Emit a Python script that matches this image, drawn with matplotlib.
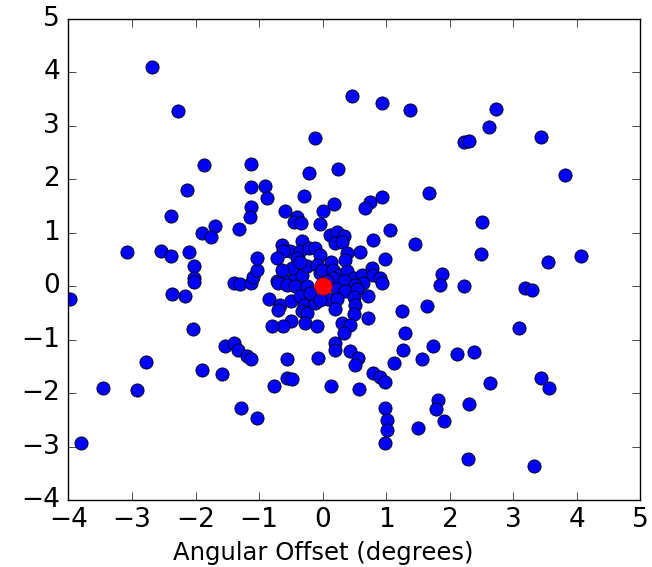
import matplotlib
matplotlib.use("Agg")
import matplotlib.pyplot as plt

# star offsets (degrees)
x_off = [
    -2.69, -2.27, 0.46, 0.93, 1.38, 2.73, 2.62, 2.23, 2.30, 3.43, 3.81,
    -0.12, -1.87, -1.13, -0.21, 0.24, -2.13, -1.13, -0.90, -0.88, -0.29,
    -1.13, -1.15, -2.39, -0.59, 0.01, 0.18, -0.41, -0.45, -0.34, -0.04,
    -1.70, -1.90, -1.76, -1.31, 1.68, 0.93, 0.75, 0.67, 2.51, 1.06,
    0.79, 1.45, 0.12, 0.22, 0.34, 0.20, 0.30, 0.59, 0.38, 0.35,
    0.14, 0.98, 2.49, 3.55, 4.06, -3.08, -2.55, -2.39, -2.10, -2.02,
    -2.02, -2.02, -3.98, -2.37, -2.17, -2.04, -1.40, -1.30, -1.12, -1.09,
    -1.03, -1.04, -0.64, -0.33, -0.51, -0.35, -0.62, -0.72, -0.41, -0.22,
    -0.12, -0.04, -0.72, -0.56, -0.43, -0.33, -0.25, -0.09, -0.04, -0.48,
    -0.64, -0.35, -0.70, -0.56, -0.43, -0.25, -0.01, 0.17, 0.28, 0.38,
    0.49, 0.62, 0.77, 0.80, 0.91, 0.93, 0.17, 0.07, 0.33, 0.64,
    0.51, 1.88, 1.85, 2.22, 3.19, 3.30, 0.22, 0.35, 0.54, 0.72,
    0.09, 0.22, 0.49, 0.51, 0.20, 0.49, 0.72, 0.30, 0.43, 0.33,
    0.20, 0.20, 0.43, 0.56, 0.51, 0.80, 0.91, 0.99, 1.25, 1.30,
    1.27, 1.12, 1.56, 1.64, 1.74, 2.12, 2.38, 3.09, 0.14, 0.57,
    0.98, 1.02, 1.02, 0.98, 1.50, 1.81, 1.79, 1.91, 2.31, 2.63,
    3.44, 3.57, 2.29, 3.33, -0.85, -0.67, -0.70, -0.49, -0.35, -0.30,
    -0.33, -0.25, -0.12, -0.28, -0.09, -0.49, -0.62, -0.80, -0.20, -0.04,
    -0.56, -0.07, -1.54, -1.40, -1.33, -1.19, -1.12, -0.56, -0.48, -0.77,
    -1.90, -1.58, -2.78, -3.45, -2.92, -3.80, -1.29, -1.04,
]
y_off = [
    4.10, 3.28, 3.56, 3.42, 3.30, 3.32, 2.98, 2.70, 2.72, 2.79, 2.07,
    2.77, 2.26, 2.28, 2.12, 2.19, 1.80, 1.85, 1.88, 1.65, 1.68,
    1.48, 1.29, 1.31, 1.41, 1.41, 1.54, 1.30, 1.20, 1.18, 1.17,
    1.12, 0.99, 0.92, 1.07, 1.75, 1.66, 1.57, 1.46, 1.19, 1.05,
    0.86, 0.78, 0.96, 1.02, 0.93, 0.81, 0.82, 0.64, 0.62, 0.48,
    0.46, 0.50, 0.61, 0.46, 0.57, 0.64, 0.66, 0.56, 0.63, 0.37,
    0.15, 0.07, -0.24, -0.15, -0.19, -0.81, 0.06, 0.04, 0.06, 0.17,
    0.31, 0.53, 0.76, 0.84, 0.65, 0.65, 0.65, 0.53, 0.53, 0.71,
    0.71, 0.59, 0.09, 0.09, 0.15, 0.21, 0.37, 0.40, 0.25, 0.34,
    0.31, 0.46, 0.05, 0.03, 0.00, 0.00, 0.31, 0.31, 0.21, 0.28,
    0.15, 0.21, 0.34, 0.21, 0.15, 0.06, 0.15, 0.09, 0.09, 0.06,
    0.03, 0.23, 0.02, 0.01, -0.04, -0.07, -0.06, -0.10, -0.06, -0.19,
    -0.24, -0.24, -0.21, -0.36, -0.43, -0.53, -0.59, -0.69, -0.72, -0.88,
    -1.06, -1.19, -1.22, -1.34, -1.47, -1.62, -1.69, -1.79, -0.47, -0.88,
    -1.19, -1.44, -1.37, -0.38, -1.11, -1.27, -1.23, -0.79, -1.87, -1.93,
    -2.27, -2.51, -2.69, -2.94, -2.66, -2.12, -2.30, -2.53, -2.20, -1.81,
    -1.71, -1.90, -3.24, -3.36, -0.24, -0.35, -0.44, -0.28, -0.19, -0.35,
    -0.47, -0.50, -0.31, -0.69, -0.75, -0.66, -0.75, -0.75, -0.12, -0.25,
    -1.37, -1.34, -1.12, -1.06, -1.19, -1.31, -1.37, -1.71, -1.73, -1.87,
    -1.57, -1.64, -1.42, -1.90, -1.95, -2.94, -2.27, -2.46,
]
centre_x = [0.0]
centre_y = [0.0]

ticks = [-4, -3, -2, -1, 0, 1, 2, 3, 4, 5]

plt.style.use("classic")
fig = plt.figure(figsize=(6.52, 5.67), dpi=100)
ax = fig.add_axes([0.105, 0.118, 0.877, 0.849])

ax.plot(x_off, y_off, "o", color="blue", markeredgecolor="black",
        markeredgewidth=0.6, markersize=9.5)
ax.plot(centre_x, centre_y, "o", color="red", markeredgecolor="#aa0000",
        markeredgewidth=0.6, markersize=12.5)

ax.set_xlim(-4, 5)
ax.set_ylim(-4, 5)
ax.set_xticks(ticks)
ax.set_yticks(ticks)
ax.tick_params(labelsize=19, length=6, direction="in", top=True, right=True)
ax.tick_params(axis="x", pad=5)
ax.tick_params(axis="y", pad=6)
ax.set_xlabel("Angular Offset (degrees)", fontsize=17.5)
# label sits a bit left of the axes centre in the original
ax.xaxis.set_label_coords(0.445, -0.085)

fig.savefig("out.png", dpi=100)
